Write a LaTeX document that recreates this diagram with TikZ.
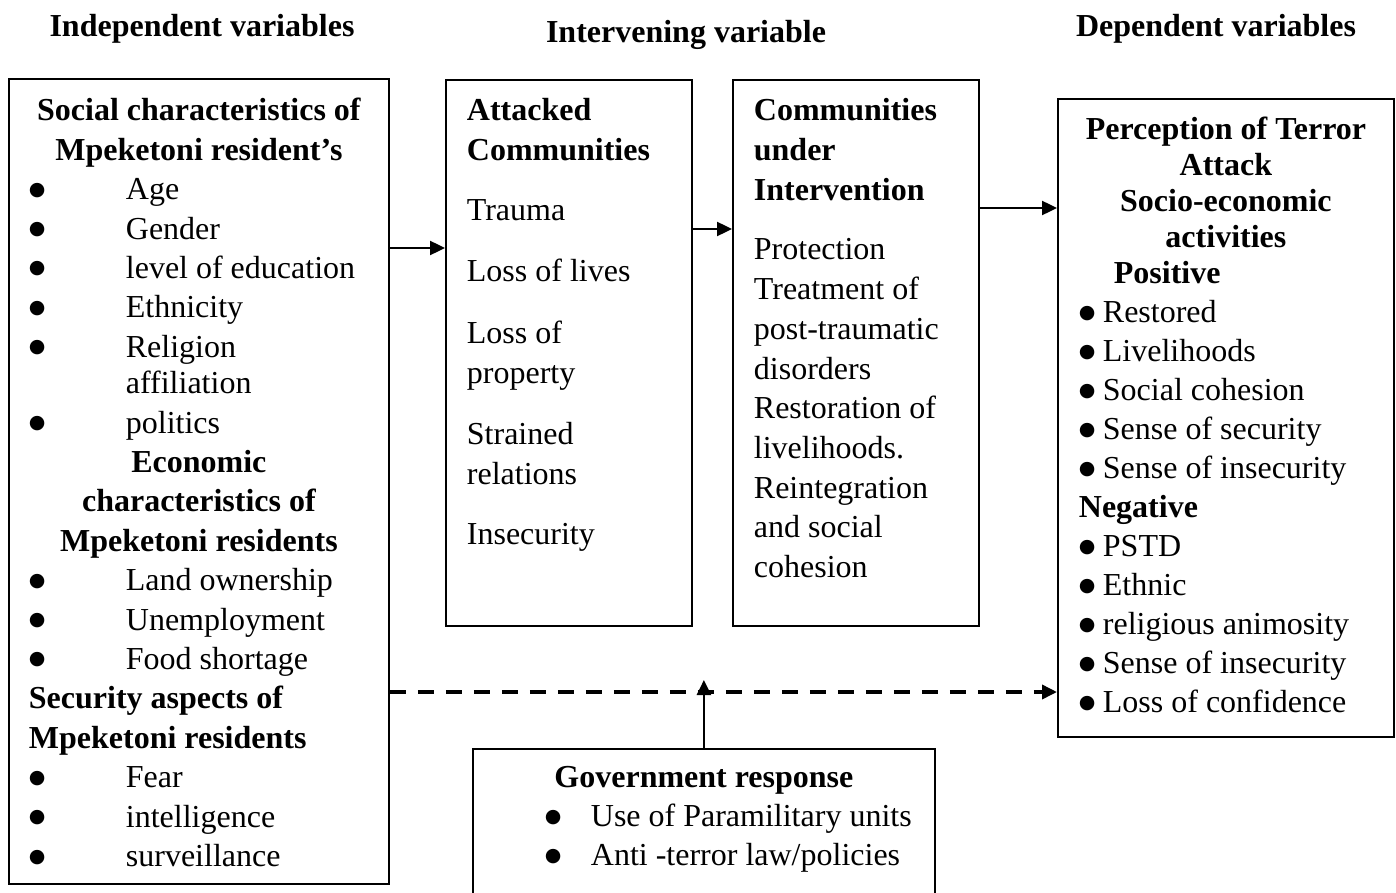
\documentclass[tikz,border=0pt]{standalone}
\usepackage{fontspec}
\setmainfont{Liberation Serif}
\newfontfamily\dotfont{DejaVu Sans}
\usetikzlibrary{arrows.meta, positioning}
\newcommand{\dotmark}{\raisebox{4.5pt}{\dotfont\fontsize{19}{19}\selectfont ●}}
\newcommand{\bitem}[2][97pt]{\makebox[#1][l]{\dotmark}#2}
\newcommand{\boxhead}[1]{\makebox[\linewidth]{\bfseries #1}}

\begin{document}
\begin{tikzpicture}[
                        x=1pt, y=-1pt,
                        >={Triangle[length=15pt,width=14pt]}
                    ]
                    \tikzset{
                        varbox/.style = {draw, line width=1.8pt, anchor=north west, align=flush left,
                                         inner xsep=20pt, text height=22pt,
                                         font=\fontsize{32}{39.4}\selectfont},
                        head/.style = {anchor=base, font=\fontsize{32}{39.4}\selectfont\bfseries},
                        link/.style = {->, line width=2.4pt},
                        dashlink/.style = {->, line width=3.5pt, dash pattern=on 16pt off 12pt}
                    }
                    \useasboundingbox (0,0) rectangle (1396,893);
                    \clip (0,0) rectangle (1396,893);

                    % Column headings
                    \node[head] (indep) at (202,37) {Independent variables};
                    \node[head] (interv) at (686,43) {Intervening variable};
                    \node[head] (dep) at (1216,37) {Dependent variables};

                    % Independent variables
                    \node[varbox, text width=340pt, inner ysep=20pt, text depth=743pt] (social) at (8,78) {%
                        \boxhead{Social characteristics of}\\
                        \boxhead{Mpeketoni resident's}\\
                        \bitem{Age}\\
                        \bitem{Gender}\\
                        \bitem{level of education}\\
                        \bitem{Ethnicity}\\
                        \bitem{Religion}\\[-3pt]
                        \hspace*{97pt}affiliation\\
                        \bitem{politics}\\
                        \boxhead{Economic}\\
                        \boxhead{characteristics of}\\
                        \boxhead{Mpeketoni residents}\\
                        \bitem{Land ownership}\\
                        \bitem{Unemployment}\\
                        \bitem{Food shortage}\\
                        \textbf{Security aspects of}\\
                        \textbf{Mpeketoni residents}\\
                        \bitem{Fear}\\
                        \bitem{intelligence}\\
                        \bitem{surveillance}};

                    % Intervening variable
                    \node[varbox, text width=204pt, inner xsep=21pt, inner ysep=19pt, text depth=486pt,
                          font=\fontsize{32}{40}\selectfont] (attacked) at (445,79) {%
                        \textbf{Attacked}\\
                        \textbf{Communities}\\[20pt]
                        Trauma\\[21pt]
                        Loss of lives\\[22pt]
                        Loss of\\
                        property\\[21pt]
                        Strained\\
                        relations\\[20pt]
                        Insecurity};
                    \node[varbox, text width=204pt, inner xsep=21pt, inner ysep=19pt, text depth=486pt,
                          font=\fontsize{32}{39.7}\selectfont] (commun) at (732,79) {%
                        \textbf{Communities}\\
                        \textbf{under}\\
                        \textbf{Intervention}\\[20pt]
                        Protection\\
                        Treatment of\\
                        post-traumatic\\
                        disorders\\
                        Restoration of\\
                        livelihoods.\\
                        Reintegration\\
                        and social\\
                        cohesion};

                    % Dependent variables
                    \node[varbox, text width=294pt, inner xsep=21pt, inner ysep=19pt, text depth=578pt,
                          font=\fontsize{32}{39}\selectfont] (percep) at (1057,98) {%
                        \boxhead{Perception of Terror}\\[-3pt]
                        \boxhead{Attack}\\[-3pt]
                        \boxhead{Socio-economic}\\[-3pt]
                        \boxhead{activities}\\[-3pt]
                        \hspace*{35pt}\textbf{Positive}\\
                        \bitem[24pt]{Restored}\\
                        \bitem[24pt]{Livelihoods}\\
                        \bitem[24pt]{Social cohesion}\\
                        \bitem[24pt]{Sense of security}\\
                        \bitem[24pt]{Sense of insecurity}\\
                        \textbf{Negative}\\
                        \bitem[24pt]{PSTD}\\
                        \bitem[24pt]{Ethnic}\\
                        \bitem[24pt]{religious animosity}\\
                        \bitem[24pt]{Sense of insecurity}\\
                        \bitem[24pt]{Loss of confidence}};

                    % Moderating box
                    \node[varbox, text width=442pt, inner xsep=10pt, inner ysep=17pt, text depth=150pt,
                          font=\fontsize{32}{39}\selectfont] (gov) at (472,748) {%
                        \boxhead{Government response}\\
                        \hspace*{62pt}\bitem[46pt]{Use of Paramilitary units}\\
                        \hspace*{62pt}\bitem[46pt]{Anti -terror law/policies}};

                    % Connectors
                    \draw[link] (social.east |- 0,248) -- (attacked.west |- 0,248);
                    \draw[link] (attacked.east |- 0,229) -- (commun.west |- 0,229);
                    \draw[link] (commun.east |- 0,208) -- (percep.west |- 0,208);
                    \draw[dashlink] (social.east |- 0,692) -- (percep.west |- 0,692);
                    \coordinate (govhit) at (gov.north |- 0,680);
                    \draw[link] (gov.north) -- (govhit);

                \end{tikzpicture}
\end{document}
